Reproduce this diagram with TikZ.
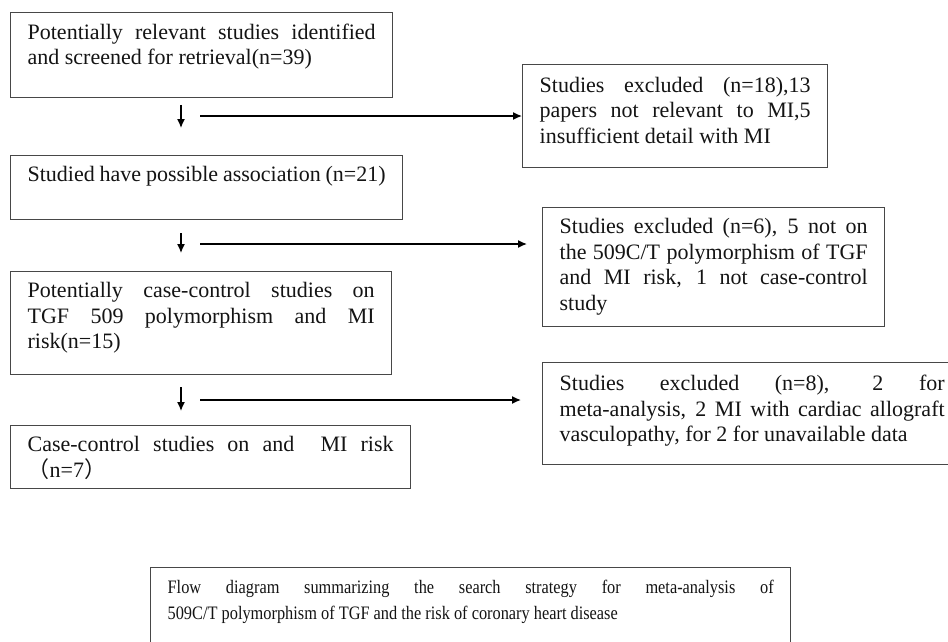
\documentclass[tikz,border=0pt]{standalone}
\usepackage{fontspec}
\setmainfont{Liberation Serif}
\newfontfamily\capfont[FakeStretch=0.86]{Liberation Serif}
\newfontfamily\cjkfont{Noto Sans CJK SC}
\usetikzlibrary{arrows.meta}
\newcommand\bt[3]{\parbox[c][#2][t]{#1}{#3}}
\newcommand\jl[1]{\makebox[\linewidth][s]{#1}}
\tikzset{
  flowbox/.style={draw=black!72, line width=1.3pt, inner xsep=17pt, inner ysep=11pt,
    anchor=north west, font=\fontsize{22}{25.5}\selectfont, text=black!92},
  capbox/.style={flowbox, inner ysep=12pt, font=\capfont\fontsize{19}{26}\selectfont},
  arr/.style={draw=black, line width=1.4pt, -{Latex[length=9pt,width=8pt]}},
}
\begin{document}
\begin{tikzpicture}[x=1pt,y=-1pt]
\useasboundingbox[fill=white] (0,0) rectangle (948,641);

% main column
\node[flowbox] (b1) at (10,12) {\bt{348pt}{63pt}{\jl{Potentially relevant studies identified}\\and screened for retrieval(n=39)}};
\node[flowbox] (b2) at (10,155) {\bt{358pt}{42pt}{Studied have possible association (n=21)}};
\node[flowbox] (b3) at (10,271) {\bt{347pt}{81pt}{\jl{Potentially case-control studies on}\\\jl{TGF 509 polymorphism and MI}\\risk(n=15)}};
\node[flowbox] (b4) at (10,425) {\bt{366pt}{41pt}{\jl{Case-control studies on and\ \ MI risk}\\{\cjkfont （}n=7{\cjkfont ）}}};

% exclusion boxes
\node[flowbox, inner ysep=12.5pt] (r1) at (522,64) {\bt{271pt}{78pt}{\jl{Studies excluded (n=18),13}\\\jl{papers not relevant to MI,5}\\insufficient detail with MI}};
\node[flowbox] (r2) at (542,207) {\bt{308pt}{97pt}{\jl{Studies excluded (n=6), 5 not on}\\\jl{the 509C/T polymorphism of TGF}\\\jl{and MI risk, 1 not case-control}\\study}};
\node[flowbox, inner ysep=12.5pt] (r3) at (542,362) {\bt{385pt}{77pt}{\jl{Studies excluded (n=8), 2 for}\\\jl{meta-analysis, 2 MI with cardiac allograft}\\vasculopathy, for 2 for unavailable data}};

% caption box
\node[capbox] (cap) at (150,567) {\bt{606pt}{70pt}{\jl{Flow diagram summarizing the search strategy for meta-analysis of}\\509C/T polymorphism of TGF and the risk of coronary heart disease}};

% arrows
\coordinate (ax) at (181,0);
\draw[arr] ([yshift=-6.5pt]b1.south -| ax) -- ([yshift=27pt]b2.north -| ax);
\draw[arr] ([yshift=-13pt]b2.south -| ax) -- ([yshift=18pt]b3.north -| ax);
\draw[arr] ([yshift=-12pt]b3.south -| ax) -- ([yshift=14pt]b4.north -| ax);

\coordinate (h1) at (200,116);
\coordinate (h2) at (200,244);
\coordinate (h3) at (200,400);
\draw[arr] (h1) -- (h1 -| r1.west);
\draw[arr] (h2) -- ([xshift=-15pt]h2 -| r2.west);
\draw[arr] (h3) -- ([xshift=-21pt]h3 -| r3.west);
\end{tikzpicture}
\end{document}
